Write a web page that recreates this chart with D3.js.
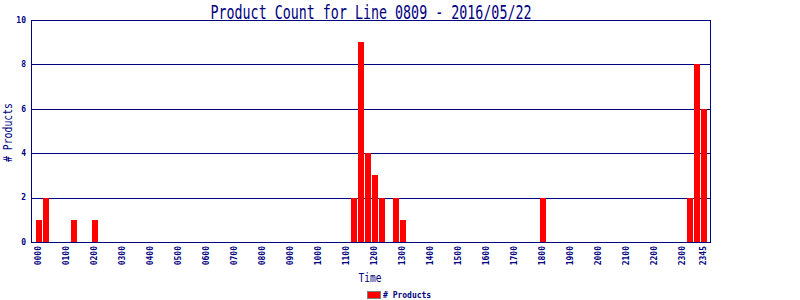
<!DOCTYPE html>
<html>
<head>
<meta charset="utf-8">
<script src="https://cdn.jsdelivr.net/npm/d3@7"></script>
<style>
    body { margin: 0; background: #fff; }
    text { font-family: "DejaVu Sans Mono", monospace; fill: #000080; }
</style>
</head>
<body>
<svg id="chart"></svg>
<script>
// quarter-hour slots that have products, and their counts
const times = ['0000', '0015', '0115', '0200', '1115', '1130', '1145', '1200', '1215', '1245', '1300', '1800', '2315', '2330', '2345'];
const counts = [1, 2, 1, 1, 2, 9, 4, 3, 2, 2, 1, 2, 2, 8, 6];

const tickLabels = ['0000', '0100', '0200', '0300', '0400', '0500', '0600', '0700', '0800', '0900', '1000', '1100',
    '1200', '1300', '1400', '1500', '1600', '1700', '1800', '1900', '2000', '2100', '2200', '2300', '2345'];
const yTicks = [0, 2, 4, 6, 8, 10];

const title = 'Product Count for Line 0809 - 2016/05/22';

const WIDTH = 800;
const HEIGHT = 300;
const PLOT = { left: 31, right: 710, top: 20, bottom: 242 };
const NAVY = '#000080';

// all 96 quarter-hour categories of the day
const slots = [];
for (let h = 0; h < 24; h++) {
    for (let m = 0; m < 60; m += 15) {
        slots.push(String(h).padStart(2, '0') + String(m).padStart(2, '0'));
    }
}

const data = times.map((t, i) => ({ time: t, count: counts[i] }));

const svg = d3.select('#chart')
    .attr('width', WIDTH)
    .attr('height', HEIGHT);

svg.append('rect')
    .attr('width', WIDTH)
    .attr('height', HEIGHT)
    .attr('fill', '#fff');

const x = d3.scaleBand()
    .domain(slots)
    .range([PLOT.left + 4.5, PLOT.right - 2.5]);

const y = d3.scaleLinear()
    .domain([0, 10])
    .range([PLOT.bottom, PLOT.top]);

// grid lines
svg.append('g')
    .selectAll('line')
    .data(yTicks.slice(1, -1))
    .join('line')
    .attr('x1', PLOT.left)
    .attr('x2', PLOT.right)
    .attr('y1', d => Math.round(y(d)) + 0.5)
    .attr('y2', d => Math.round(y(d)) + 0.5)
    .attr('stroke', NAVY)
    .attr('shape-rendering', 'crispEdges');

// bars
svg.append('g')
    .selectAll('rect')
    .data(data)
    .join('rect')
    .attr('x', d => x(d.time) + 0.5)
    .attr('width', x.bandwidth() - 1)
    .attr('y', d => y(d.count))
    .attr('height', d => y(0) - y(d.count))
    .attr('fill', '#ff0000')
    .attr('shape-rendering', 'crispEdges');

// frame
svg.append('rect')
    .attr('x', PLOT.left + 0.5)
    .attr('y', PLOT.top + 0.5)
    .attr('width', PLOT.right - PLOT.left)
    .attr('height', PLOT.bottom - PLOT.top)
    .attr('fill', 'none')
    .attr('stroke', NAVY)
    .attr('shape-rendering', 'crispEdges');

// y axis labels
svg.append('g')
    .selectAll('text')
    .data(yTicks)
    .join('text')
    .attr('x', 26)
    .attr('y', d => y(d))
    .attr('dy', '0.35em')
    .attr('text-anchor', 'end')
    .attr('font-size', 8)
    .attr('font-weight', 'bold')
    .text(d => d);

// x axis labels, vertical
svg.append('g')
    .selectAll('text')
    .data(tickLabels)
    .join('text')
    .attr('transform', d => 'translate(' + (x(d) + x.bandwidth() / 2 - 0.5) + ',246) rotate(-90)')
    .attr('dy', '0.35em')
    .attr('text-anchor', 'end')
    .attr('font-size', 8)
    .attr('font-weight', 'bold')
    .text(d => d);

// title
svg.append('text')
    .attr('x', 371)
    .attr('y', 19)
    .attr('text-anchor', 'middle')
    .attr('font-size', 19)
    .attr('textLength', 321)
    .attr('lengthAdjust', 'spacingAndGlyphs')
    .text(title);

// axis titles
svg.append('text')
    .attr('x', 370)
    .attr('y', 282)
    .attr('text-anchor', 'middle')
    .attr('font-size', 12)
    .attr('textLength', 23)
    .attr('lengthAdjust', 'spacingAndGlyphs')
    .text('Time');

svg.append('text')
    .attr('transform', 'translate(12,132.5) rotate(-90)')
    .attr('text-anchor', 'middle')
    .attr('font-size', 12)
    .attr('textLength', 59)
    .attr('lengthAdjust', 'spacingAndGlyphs')
    .text('# Products');

// legend
svg.append('rect')
    .attr('x', 367.5)
    .attr('y', 291.5)
    .attr('width', 13)
    .attr('height', 7)
    .attr('fill', '#ff0000')
    .attr('stroke', '#808080')
    .attr('shape-rendering', 'crispEdges');

svg.append('text')
    .attr('x', 383)
    .attr('y', 298)
    .attr('font-size', 8)
    .attr('font-weight', 'bold')
    .text('# Products');
</script>
</body>
</html>
